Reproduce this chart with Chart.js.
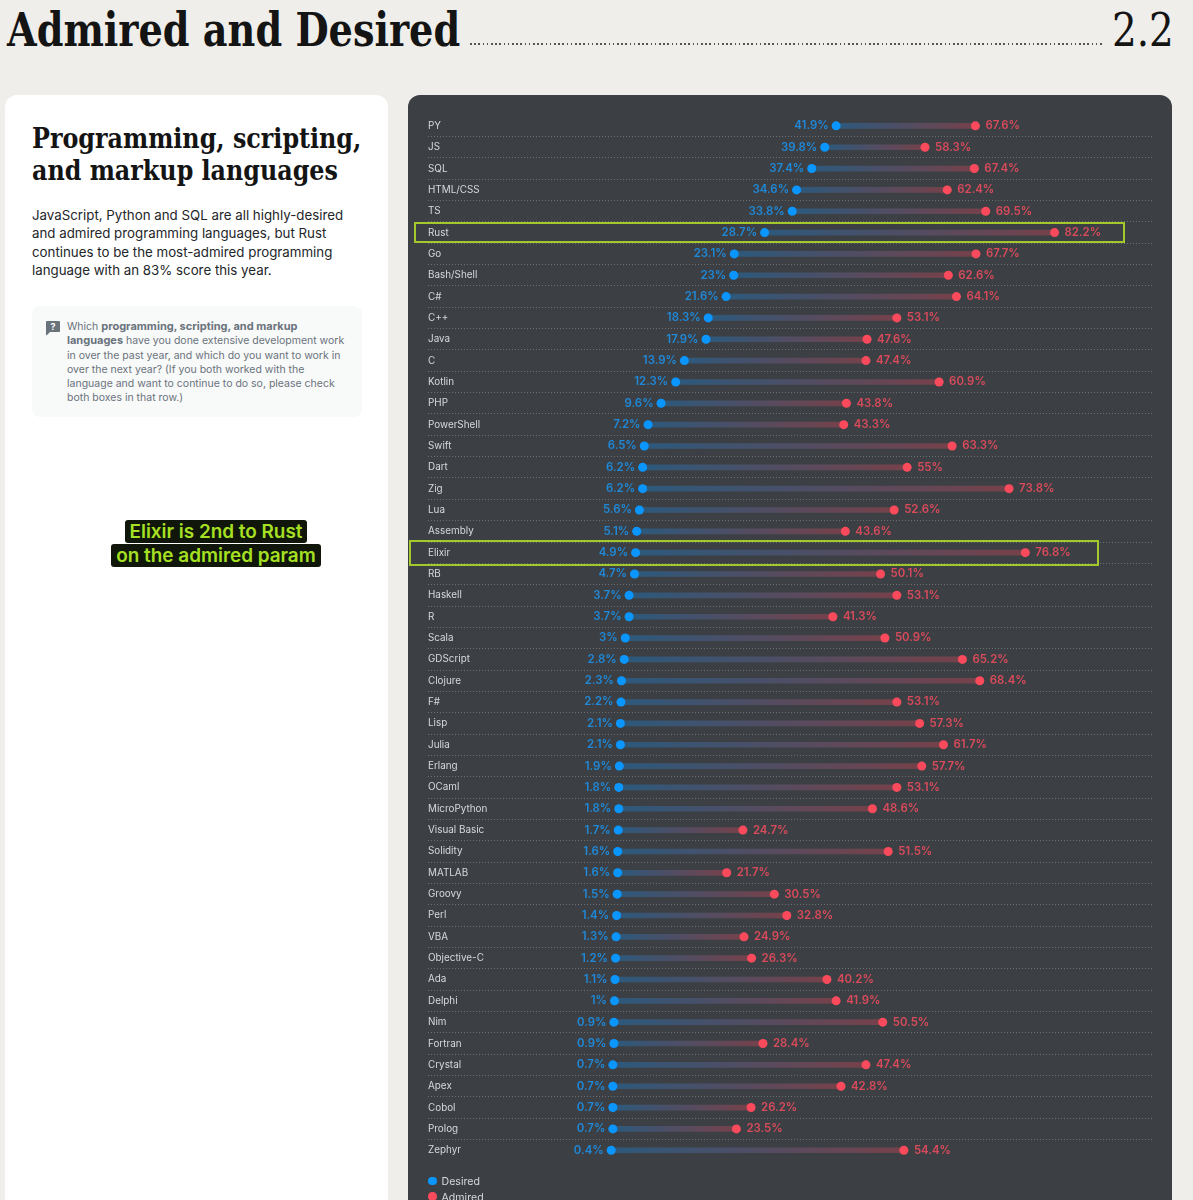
<!DOCTYPE html>
<html>
<head>
<meta charset="utf-8">
<title>Admired and Desired</title>
<script src="https://cdn.jsdelivr.net/npm/chart.js@4/dist/chart.umd.js"></script>
<style>
html,body{margin:0;padding:0;width:1193px;height:1200px;overflow:hidden;background:#efeeea;font-family:Inter,sans-serif;}
.abs{position:absolute;}
#title{left:7px;top:0;font:bold 47px/60px "DejaVu Serif Condensed","DejaVu Serif",serif;color:#141414;white-space:nowrap;transform:scaleX(0.904);transform-origin:left;}
#dots{left:470px;top:43px;width:632px;height:2px;background:repeating-linear-gradient(90deg,#555 0 1.6px,transparent 1.6px 4.2px);}
#num{left:1111.5px;top:0;font:47px/60px "DejaVu Serif Condensed","DejaVu Serif",serif;color:#141414;transform:scaleX(0.92);transform-origin:left;}
#card{left:5px;top:95px;width:383px;height:1200px;background:#fff;border-radius:12px;}
#heading{left:32px;top:123px;font:bold 28px/32px "DejaVu Serif Condensed","DejaVu Serif",serif;color:#141414;white-space:nowrap;transform:scaleX(0.945);transform-origin:left;}
#intro{left:32px;top:206px;font-size:13.3px;line-height:18.4px;color:#232629;white-space:nowrap;}
#question{left:32px;top:306px;width:330px;height:111px;background:#f8f9f9;border-radius:8px;}
#qtext{left:67px;top:320px;font-size:10.5px;line-height:14.25px;color:#6a737c;white-space:nowrap;}
#qtext b{font-size:11px;line-height:1;}
#qicon{left:46px;top:321px;}
#note{left:66px;top:520px;width:300px;text-align:center;font-size:18.9px;line-height:23.6px;font-weight:600;color:#a6e022;}
#note span{background:#10160a;padding:0 5px;border-radius:3px;-webkit-box-decoration-break:clone;box-decoration-break:clone;}
#panel{left:408px;top:95px;width:764px;height:1200px;background:#3c4044;border-radius:12px;}
#chartBox{left:408px;top:95px;width:764px;height:1105px;}
.mark{border:2px solid #a4c92d;box-sizing:border-box;}
#legend{left:428px;top:1174px;font-size:10.6px;line-height:15.5px;color:#d6d9dc;}
#legend i{display:inline-block;width:8.5px;height:8.5px;border-radius:50%;margin-right:5px;}
</style>
</head>
<body>

<div class="abs" id="title">Admired and Desired</div>
<div class="abs" id="dots"></div>
<div class="abs" id="num">2.2</div>

<div class="abs" id="card"></div>
<div class="abs" id="heading">Programming, scripting,<br>and markup languages</div>
<div class="abs" id="intro">JavaScript, Python and SQL are all highly-desired<br>and admired programming languages, but Rust<br>continues to be the most-admired programming<br>language with an 83% score this year.</div>
<div class="abs" id="question"></div>
<svg class="abs" id="qicon" width="14" height="14" viewBox="0 0 14 14"><path d="M1 0h12a1 1 0 0 1 1 1v9a1 1 0 0 1-1 1H4l-3 3H0V1a1 1 0 0 1 1-1z" fill="#6a737c"/><text x="7" y="9" font-family="Inter" font-size="9" font-weight="700" fill="#fff" text-anchor="middle">?</text></svg>
<div class="abs" id="qtext">Which <b>programming, scripting, and markup</b><br><b>languages</b> have you done extensive development work<br>in over the past year, and which do you want to work in<br>over the next year? (If you both worked with the<br>language and want to continue to do so, please check<br>both boxes in that row.)</div>
<div class="abs" id="note"><span>Elixir is 2nd to Rust</span><br><span>on the admired param</span></div>

<div class="abs" id="panel"></div>
<div class="abs" id="chartBox"><canvas id="chart" width="764" height="1105"></canvas></div>
<div class="abs mark" style="left:414px;top:222px;width:711px;height:21px"></div>
<div class="abs mark" style="left:409px;top:540px;width:690px;height:26px"></div>
<div class="abs" id="legend"></div>

<script>
const languages = ["PY","JS","SQL","HTML/CSS","TS","Rust","Go","Bash/Shell","C#","C++","Java","C","Kotlin","PHP","PowerShell","Swift","Dart","Zig","Lua","Assembly","Elixir","RB","Haskell","R","Scala","GDScript","Clojure","F#","Lisp","Julia","Erlang","OCaml","MicroPython","Visual Basic","Solidity","MATLAB","Groovy","Perl","VBA","Objective-C","Ada","Delphi","Nim","Fortran","Crystal","Apex","Cobol","Prolog","Zephyr"];
const desired = [41.9,39.8,37.4,34.6,33.8,28.7,23.1,23,21.6,18.3,17.9,13.9,12.3,9.6,7.2,6.5,6.2,6.2,5.6,5.1,4.9,4.7,3.7,3.7,3,2.8,2.3,2.2,2.1,2.1,1.9,1.8,1.8,1.7,1.6,1.6,1.5,1.4,1.3,1.2,1.1,1,0.9,0.9,0.7,0.7,0.7,0.7,0.4];
const admired = [67.6,58.3,67.4,62.4,69.5,82.2,67.7,62.6,64.1,53.1,47.6,47.4,60.9,43.8,43.3,63.3,55,73.8,52.6,43.6,76.8,50.1,53.1,41.3,50.9,65.2,68.4,53.1,57.3,61.7,57.7,53.1,48.6,24.7,51.5,21.7,30.5,32.8,24.9,26.3,40.2,41.9,50.5,28.4,47.4,42.8,26.2,23.5,54.4];

const BLUE = "#0a95ff";
const RED = "#fb4a5c";

// ---------------- bar gradient ----------------
function barGradient(context){

    if(context.dataIndex === undefined) return "transparent";

    const x = context.chart.scales.x;
    const i = context.dataIndex;
    const x0 = x.getPixelForValue(desired[i]);
    const x1 = x.getPixelForValue(admired[i]);

    // scales have no size yet on the first (reset) pass
    if(!isFinite(x0) || !isFinite(x1)) return "transparent";

    const g = context.chart.ctx.createLinearGradient(x0,0,x1,0);

    g.addColorStop(0, "rgba(10,149,255,0.3)");
    g.addColorStop(1, "rgba(255,70,90,0.3)");

    return g;

}

// ---------------- value labels ----------------
const valueLabels = {

    id:"valueLabels",

    afterDatasetsDraw(chart){

        const ctx = chart.ctx;

        ctx.save();
        ctx.font = "600 11.4px Inter";
        ctx.textBaseline = "middle";

        chart.getDatasetMeta(0).data.forEach((p,i)=>{
            ctx.fillStyle = "#1f88d8";
            ctx.textAlign = "right";
            ctx.fillText(desired[i] + "%", p.x - 7.5, p.y);
        });

        chart.getDatasetMeta(1).data.forEach((p,i)=>{
            ctx.fillStyle = "#d94a5b";
            ctx.textAlign = "left";
            ctx.fillText(admired[i] + "%", p.x + 10, p.y);
        });

        ctx.restore();

    }

};

const chart = new Chart(document.getElementById("chart"),{

    type:"bar",

    data:{

        labels:languages,

        datasets:[
            {
                type:"line",
                label:"Desired",
                data:desired,
                showLine:false,
                pointRadius:4.5,
                pointBackgroundColor:BLUE,
                pointBorderWidth:0
            },
            {
                type:"line",
                label:"Admired",
                data:admired,
                showLine:false,
                pointRadius:4.5,
                pointBackgroundColor:RED,
                pointBorderWidth:0
            },
            {
                label:"Range",
                data:desired.map((d,i)=>[d,admired[i]]),
                backgroundColor:barGradient,
                barThickness:5,
                borderSkipped:false
            }
        ]

    },

    options:{

        indexAxis:"y",
        responsive:false,
        animation:false,

        layout:{
            padding:{left:20,right:19,top:20.2,bottom:39.1}
        },

        plugins:{
            legend:{display:false},
            tooltip:{enabled:false}
        },

        scales:{

            x:{
                display:false,
                min:-33.4,
                max:100.36
            },

            y:{
                offset:true,
                border:{display:false,dash:[1,2]},
                grid:{
                    offset:true,
                    drawTicks:false,
                    // the closing line has no tick, so its context has no index
                    color:(c)=>(c.index===0||c.index===undefined)?"transparent":"rgba(255,255,255,0.25)"
                },
                ticks:{
                    mirror:true,
                    padding:0,
                    autoSkip:false,
                    color:"#d6d9dc",
                    font:{family:"Inter",size:9.9}
                }
            }

        }

    },

    plugins:[valueLabels]

});

// ---------------- legend ----------------
document.getElementById("legend").innerHTML = chart.data.datasets
    .slice(0,2)
    .map(d=>`<div><i style="background:${d.pointBackgroundColor}"></i>${d.label}</div>`)
    .join("");
</script>
</body>
</html>
